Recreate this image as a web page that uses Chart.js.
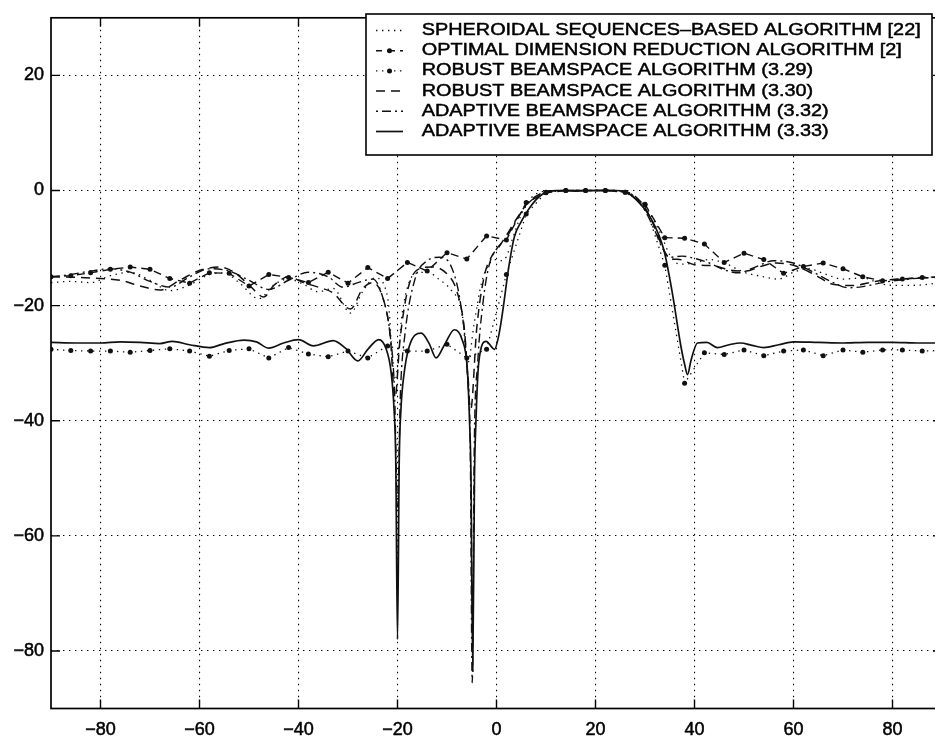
<!DOCTYPE html>
<html>
<head>
<meta charset="utf-8">
<title>Beampattern comparison</title>
<script src="https://cdn.jsdelivr.net/npm/chart.js@4.4.1/dist/chart.umd.min.js"></script>
<style>
  html, body { margin: 0; padding: 0; background: #fff; overflow: hidden; }
  #wrap { width: 950px; height: 739px; }
</style>
</head>
<body>
<div id="wrap"><canvas id="beam" width="950" height="739"></canvas></div>
<script>
// Axis tick values (angle in degrees, gain in dB)
const xTickValues = [-80, -60, -40, -20, 0, 20, 40, 60, 80];
const yTickValues = [-80, -60, -40, -20, 0, 20];

const seriesLabels = [
  'SPHEROIDAL SEQUENCES\u2013BASED ALGORITHM [22]',
  'OPTIMAL DIMENSION REDUCTION ALGORITHM [2]',
  'ROBUST BEAMSPACE ALGORITHM (3.29)',
  'ROBUST BEAMSPACE ALGORITHM (3.30)',
  'ADAPTIVE BEAMSPACE ALGORITHM (3.32)',
  'ADAPTIVE BEAMSPACE ALGORITHM (3.33)'
];

// Coarse 4-degree angle grid used by the two marker-plotted patterns
const coarseAngles = [-90, -86, -82, -78, -74, -70, -66, -62, -58, -54, -50, -46, -42, -38, -34, -30,
  -26, -22, -18, -14, -10, -6, -2, 2, 6, 10, 14, 18, 22, 26, 30, 34, 38, 42, 46, 50, 54, 58, 62, 66,
  70, 74, 78, 82, 86, 90];

const optimalGain = [-15.0, -14.8, -14.3, -13.7, -13.3, -13.7, -15.3, -16.1, -14.3, -14.4, -16.6, -14.6,
  -15.1, -16.0, -14.2, -16.1, -13.4, -15.3, -12.5, -14.0, -10.8, -11.9, -7.9, -8.6, -2.1, -0.4, 0, 0, 0,
  -0.3, -2.4, -8.2, -8.3, -9.3, -12.5, -10.9, -12.0, -14.4, -13.2, -12.6, -13.6, -15.0, -15.7, -15.4,
  -15.1, -15.0];

const robust329Gain = [-27.6, -27.8, -27.9, -27.9, -28.1, -27.8, -27.5, -27.9, -28.8, -27.8, -27.5, -29.1,
  -27.3, -28.4, -28.9, -27.9, -29.1, -27.0, -27.9, -27.9, -26.7, -29.1, -27.6, -14.6, -4.1, -0.3, 0, 0, 0,
  -0.3, -2.5, -13.0, -33.5, -28.2, -28.5, -27.7, -28.7, -27.9, -27.7, -28.7, -27.7, -28.1, -27.7, -27.7,
  -27.9, -27.8];

// Finely sampled patterns: [angle, gain]
const spheroidal = [
  [-90, -16.0], [-86, -15.8], [-82, -16.0], [-78, -14.8], [-74, -14.2], [-70, -15.6], [-66, -17.4],
  [-62, -16.4], [-58, -14.6], [-55, -14.3], [-52, -16.0], [-48, -18.8], [-45, -16.4], [-42, -15.4],
  [-39, -16.3], [-36, -17.6], [-33, -17.0], [-29.5, -21.3], [-27, -17.5], [-24.5, -15.2], [-22, -18.5],
  [-20.5, -33], [-19, -21], [-16.5, -14.5], [-14, -14.2], [-11.5, -15.5], [-9, -17.5], [-7, -21],
  [-5.8, -30], [-4.5, -23], [-3, -16], [-1.5, -12.8], [0, -12], [1, -12.2], [2, -11.5], [3, -9],
  [4, -6.5], [5, -4.2], [6, -2.6], [7, -1.3], [8, -0.6], [10, -0.1], [14, 0], [18, 0], [22, 0],
  [26, -0.1], [27, -0.5], [28, -1.1], [30, -2.8], [32, -5.5], [33.5, -8.2], [35, -11.2], [37, -12.8],
  [40, -12.6], [43, -12.0], [46, -12.6], [50, -14.2], [54, -15.0], [57, -15.4], [60, -14.2], [63, -13.6],
  [66, -14.4], [70, -15.4], [74, -15.2], [78, -16.3], [82, -16.5], [86, -16.4], [90, -16.0]
];

const robust330 = [
  [-90, -15.0], [-85, -15.1], [-80, -15.3], [-76, -15.6], [-72, -16.6], [-68, -17.3], [-64, -15.6],
  [-60, -13.9], [-56, -13.3], [-53, -14.2], [-50, -16.4], [-47, -18.5], [-45, -16.5], [-42, -15.0],
  [-39, -16.0], [-36, -16.8], [-33, -17.8], [-29.5, -20.6], [-27, -17.0], [-25, -16.0], [-23, -18.5],
  [-21.5, -25], [-20.5, -36], [-19.5, -26], [-18, -17.5], [-16, -13.8], [-13, -13.3], [-10, -14.5],
  [-8, -17.5], [-6.5, -24], [-5.2, -38], [-4, -24], [-2.5, -15], [-1, -11.5], [0.5, -9.8], [2, -7.8],
  [4, -5.0], [6, -2.5], [8, -1.0], [10, -0.2], [14, 0], [18, 0], [22, 0], [26, -0.2], [28, -1.0],
  [30, -3.0], [32, -6.5], [33.5, -9.8], [35, -11.8], [37, -12.0], [40, -12.9], [44, -13.1], [47, -13.8],
  [50.5, -14.0], [53, -13.3], [56.5, -12.6], [60, -13.0], [64, -14.5], [68, -16.3], [72, -16.5],
  [76.5, -15.8], [81, -15.4], [86, -15.2], [90, -15.1]
];

const adaptive332 = [
  [-90, -15.0], [-86, -14.6], [-82, -14.0], [-78, -13.6], [-74, -14.2], [-70, -15.8], [-66, -16.8],
  [-62, -15.0], [-58, -13.6], [-54, -14.0], [-50, -15.6], [-46, -17.2], [-42, -15.6], [-38, -14.2],
  [-34, -15.0], [-31, -16.8], [-28, -16.0], [-25, -15.4], [-23, -18.5], [-21.5, -25], [-20.6, -35],
  [-20, -55], [-19.4, -35], [-18.5, -25], [-16.5, -15.5], [-14, -12.2], [-11.5, -11.6], [-9, -13.5],
  [-7.2, -20], [-6, -30], [-5.3, -45], [-4.9, -85.5], [-4.5, -45], [-3.8, -30], [-2.8, -20],
  [-1.5, -13], [0, -10.2], [2, -8.2], [4, -5.2], [6, -2.6], [8, -1.1], [10, -0.2], [14, 0], [18, 0],
  [22, 0], [26, -0.2], [28, -1.2], [30, -3.5], [32, -7], [33.5, -10], [35, -11.6], [37.5, -11.4],
  [40, -11.8], [43, -12.6], [46, -13.8], [49, -14.3], [52, -13.4], [56, -12.2], [60, -12.6],
  [64, -14.2], [68, -16.0], [71, -16.9], [74, -16.7], [78, -16.0], [82, -15.5], [86, -15.2], [90, -15.0]
];

const adaptive333 = [
  [-90, -26.4], [-85, -26.5], [-80, -26.5], [-76, -26.3], [-72, -26.4], [-68, -26.6], [-65.5, -26.2],
  [-62, -26.8], [-58, -27.3], [-55, -26.6], [-51, -26.0], [-48.5, -26.3], [-46, -27.4], [-43, -26.5],
  [-40, -25.9], [-37, -27.0], [-33, -26.1], [-30.5, -27.4], [-28, -29.6], [-26, -27.6], [-23.8, -25.9],
  [-22.3, -27.5], [-21.3, -31.5], [-20.7, -38], [-20.35, -47], [-20, -78], [-19.65, -47], [-19.3, -38],
  [-18.7, -32], [-17.6, -27], [-15.2, -24.8], [-13.6, -26.6], [-12.2, -29.1], [-10.5, -26.8],
  [-8.5, -24.2], [-7, -25.8], [-5.9, -31], [-5.45, -40], [-5.15, -50], [-4.8, -83.5], [-4.45, -50],
  [-4.15, -40], [-3.6, -30], [-2.1, -26.2], [-0.4, -27.6], [0.5, -25], [1.5, -19.5], [2.3, -14.3],
  [3.6, -8.1], [5, -5.4], [6.3, -3.5], [8, -1.6], [9.2, -0.7], [10.5, -0.2], [12, 0], [16, -0.1],
  [20, 0], [24, 0], [26, -0.2], [27.5, -1.0], [29, -2.3], [31.1, -4.7], [33.8, -10.3], [35.5, -17.7],
  [37.2, -26.8], [38, -30.2], [38.6, -32], [39.3, -29.5], [40.6, -26.5], [42.5, -26.4], [44.6, -27.3],
  [47, -26.8], [49.3, -26.5], [51.6, -26.9], [54, -27.3], [57, -26.8], [60, -26.3], [65, -26.4],
  [70, -26.5], [75, -26.4], [80, -26.4], [85, -26.5], [90, -26.5]
];

const toPoints = pairs => pairs.map(([x, y]) => ({ x, y }));
const fromGrid = (angles, gains) => angles.map((x, i) => ({ x, y: gains[i] }));

const INK = '#111';
const fontFamily = '"Liberation Sans", Arial, Helvetica, sans-serif';

function lineSet(label, data, dash, width, marker, legendOffset, smooth) {
  return {
    label, data,
    borderColor: INK, backgroundColor: INK,
    borderWidth: width, borderDash: dash,
    pointRadius: marker, pointHoverRadius: marker,
    pointBackgroundColor: INK, pointBorderWidth: 0,
    tension: smooth ? 0.4 : 0,
    cubicInterpolationMode: smooth ? 'monotone' : 'default',
    fill: false,
    legendDashOffset: legendOffset
  };
}

const datasets = [
  lineSet(seriesLabels[0], toPoints(spheroidal), [1.4, 4.6], 1.3, 0, 0, true),
  lineSet(seriesLabels[1], fromGrid(coarseAngles, optimalGain), [8, 5], 1.4, 2.5, 2, false),
  lineSet(seriesLabels[2], fromGrid(coarseAngles, robust329Gain), [1.4, 4.6], 1.3, 2.5, 0, false),
  lineSet(seriesLabels[3], toPoints(robust330), [9, 6], 1.5, 0, 0, true),
  lineSet(seriesLabels[4], toPoints(adaptive332), [9, 4, 2, 4], 1.4, 0, 13, true),
  lineSet(seriesLabels[5], toPoints(adaptive333), [], 1.7, 0, 0, true)
];

const signed = v => (v < 0 ? '\u2212' + Math.abs(v) : String(v));

// Axes box with short inward tick marks on all sides
const framePlugin = {
  id: 'frame',
  afterDatasetsDraw(chart) {
    const { ctx, chartArea: a, scales: { x, y } } = chart;
    ctx.save();
    ctx.setLineDash([]);
    ctx.strokeStyle = '#000';
    ctx.lineWidth = 1.7;
    ctx.strokeRect(a.left, a.top, a.right - a.left, a.bottom - a.top);
    const tl = 9;
    ctx.lineWidth = 1.4;
    ctx.beginPath();
    x.ticks.forEach(t => {
      const px = x.getPixelForValue(t.value);
      ctx.moveTo(px, a.bottom); ctx.lineTo(px, a.bottom - tl);
      ctx.moveTo(px, a.top); ctx.lineTo(px, a.top + tl);
    });
    y.ticks.forEach(t => {
      const py = y.getPixelForValue(t.value);
      ctx.moveTo(a.left, py); ctx.lineTo(a.left + tl, py);
      ctx.moveTo(a.right, py); ctx.lineTo(a.right - tl, py);
    });
    ctx.stroke();
    ctx.restore();
  }
};

// Boxed legend in the upper right corner of the plot
const legendPlugin = {
  id: 'boxLegend',
  afterDraw(chart) {
    const { ctx } = chart;
    const box = { left: 366, top: 14, right: 932, bottom: 155 };
    const firstRow = 30.5, rowStep = 20.2;
    const sampleL = 376, sampleR = 403, textX = 421.7, textWidth = 499;
    ctx.save();
    ctx.fillStyle = '#fff';
    ctx.fillRect(box.left, box.top, box.right - box.left, box.bottom - box.top);
    ctx.setLineDash([]);
    ctx.strokeStyle = '#000';
    ctx.lineWidth = 1.6;
    ctx.strokeRect(box.left, box.top, box.right - box.left, box.bottom - box.top);

    ctx.font = '16px ' + fontFamily;
    ctx.textBaseline = 'middle';
    ctx.fillStyle = '#000';
    const stretch = textWidth / ctx.measureText(chart.data.datasets[0].label).width;

    chart.data.datasets.forEach((ds, i) => {
      const yy = firstRow + i * rowStep;
      ctx.save();
      ctx.strokeStyle = ds.borderColor;
      ctx.lineWidth = ds.borderWidth;
      ctx.setLineDash(ds.borderDash);
      ctx.lineDashOffset = ds.legendDashOffset || 0;
      ctx.beginPath();
      ctx.moveTo(sampleL, yy);
      ctx.lineTo(sampleR, yy);
      ctx.stroke();
      if (ds.pointRadius > 0) {
        ctx.fillStyle = ds.pointBackgroundColor;
        ctx.beginPath();
        ctx.arc((sampleL + sampleR) / 2, yy, ds.pointRadius, 0, Math.PI * 2);
        ctx.fill();
      }
      ctx.restore();

      ctx.save();
      ctx.translate(textX, yy);
      ctx.scale(stretch, 1);
      ctx.strokeStyle = '#000';
      ctx.lineWidth = 0.45;
      ctx.fillText(ds.label, 0, 0);
      ctx.strokeText(ds.label, 0, 0);
      ctx.restore();
    });
    ctx.restore();
  }
};

const tickFont = { family: fontFamily, size: 18 };

new Chart(document.getElementById('beam'), {
  type: 'line',
  data: { datasets },
  options: {
    responsive: false,
    animation: false,
    devicePixelRatio: 1,
    layout: { padding: { top: 3.5, right: 8, left: 0, bottom: 0 } },
    plugins: { legend: { display: false }, tooltip: { enabled: false } },
    events: [],
    scales: {
      x: {
        type: 'linear',
        min: -90, max: 90,
        afterBuildTicks: s => { s.ticks = xTickValues.map(value => ({ value })); },
        afterFit: s => { s.height = 30.5; },
        ticks: {
          color: '#000', font: tickFont, padding: 11,
          textStrokeColor: '#000', textStrokeWidth: 0.5,
          maxRotation: 0, autoSkip: false,
          callback: v => signed(v)
        },
        grid: { color: '#000', lineWidth: 1.1, drawTicks: false },
        border: { display: false, dash: [1.4, 4.6] }
      },
      y: {
        type: 'linear',
        min: -90, max: 30,
        afterBuildTicks: s => { s.ticks = yTickValues.map(value => ({ value })); },
        afterFit: s => { s.width = 51; },
        ticks: {
          color: '#000', font: tickFont, padding: 7,
          textStrokeColor: '#000', textStrokeWidth: 0.5,
          autoSkip: false,
          callback: v => signed(v)
        },
        grid: { color: '#000', lineWidth: 1.1, drawTicks: false },
        border: { display: false, dash: [1.4, 4.6] }
      }
    }
  },
  plugins: [framePlugin, legendPlugin]
});
</script>
</body>
</html>
